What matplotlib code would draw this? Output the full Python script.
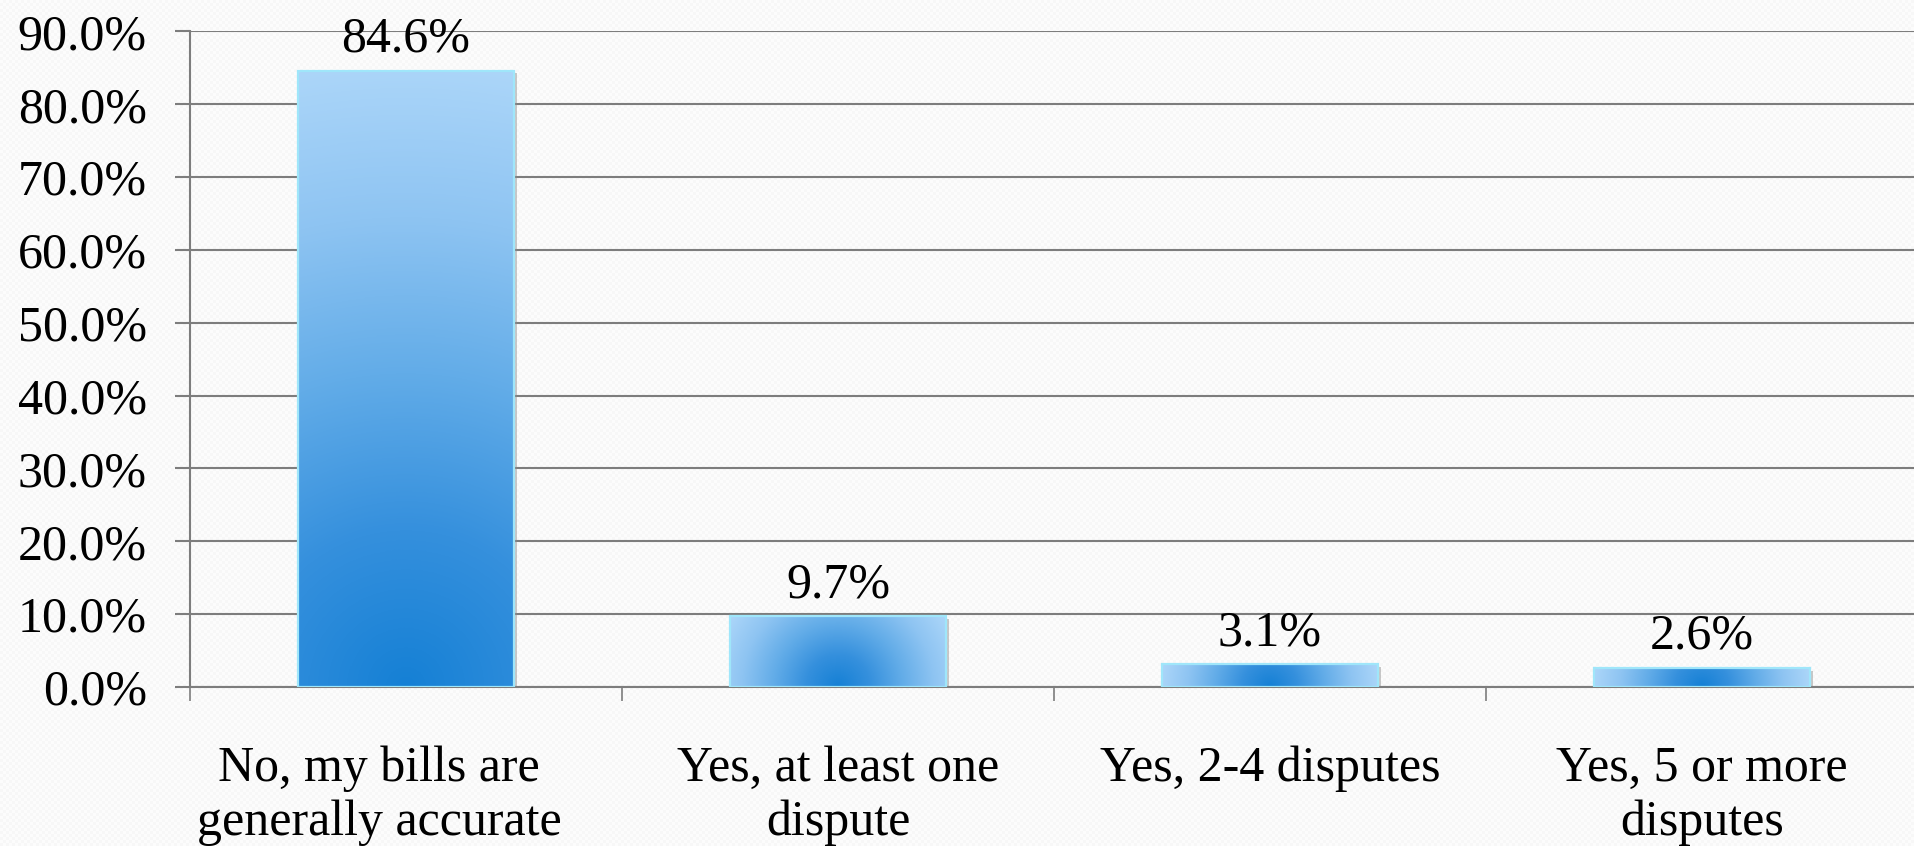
import numpy as np
import matplotlib
matplotlib.use("Agg")
import matplotlib.pyplot as plt
from matplotlib.colors import LinearSegmentedColormap
from matplotlib.patches import Rectangle
from matplotlib import transforms

# Survey results: billing disputes
categories = [
    "No, my bills are\ngenerally accurate",
    "Yes, at least one\ndispute",
    "Yes, 2-4 disputes",
    "Yes, 5 or more\ndisputes",
]
shares = [84.6, 9.7, 3.1, 2.6]
y_ticks = [0, 10, 20, 30, 40, 50, 60, 70, 80, 90]

plt.rcParams["font.family"] = ["Liberation Serif", "DejaVu Serif"]
FS = 36
GRID = "#7d7d7d"

W, H, DPI = 1915, 846, 100
fig = plt.figure(figsize=(W / DPI, H / DPI), dpi=DPI)
fig.patch.set_facecolor("#fbfbfb")

# faint dotted paper texture
yy, xx = np.mgrid[0:H, 0:W]
tex = np.where(((xx // 3) + (yy // 3)) % 2 == 0, 0.992, 0.972)
fig.figimage(np.dstack([tex, tex, tex]), xo=0, yo=0, zorder=-10)

left_px, right_px, top_px, bot_px = 190, 1918, 31.5, 687
ax = fig.add_axes([left_px / W, 1 - bot_px / H,
                   (right_px - left_px) / W, (bot_px - top_px) / H])
ax.set_zorder(1)
ax.set_facecolor("none")
ax.set_xlim(-0.5, len(categories) - 0.5)
ax.set_ylim(0, 90)

for s in ("top", "right"):
    ax.spines[s].set_visible(False)
for s in ("left", "bottom"):
    ax.spines[s].set_color(GRID)
    ax.spines[s].set_linewidth(1.5)

ax.set_yticks(y_ticks)
ax.set_yticklabels([f"{t:.1f}%" for t in y_ticks], fontsize=FS)
ax.tick_params(axis="y", length=11, width=1.5, color=GRID, pad=20, direction="out")
ax.yaxis.grid(True, color=GRID, linewidth=1.5, zorder=1)
ax.set_axisbelow(True)

xpos = np.arange(len(categories))
ax.set_xticks(np.arange(len(categories) + 1) - 0.5)
ax.set_xticklabels([])
ax.tick_params(axis="x", length=10, width=1.2, color=GRID, direction="out")

cmap = LinearSegmentedColormap.from_list(
    "barfill", ["#1580d5", "#3590dd", "#62ace8", "#8ec4f2", "#acd6f9"])

bars = ax.bar(xpos, shares, width=0.5, color="none", edgecolor="none", zorder=3)

fig.canvas.draw()
px_per_x = ax.transData.transform((1, 0))[0] - ax.transData.transform((0, 0))[0]
px_per_y = ax.transData.transform((0, 1))[1] - ax.transData.transform((0, 0))[1]

shadow_tr = transforms.offset_copy(ax.transData, fig=fig, x=2.5, y=-2.5, units="dots")

for bar in bars:
    x0, w, h = bar.get_x(), bar.get_width(), bar.get_height()
    wpx, hpx = w * px_per_x, h * px_per_y
    nx, ny = 200, max(int(hpx), 20)
    u = (np.linspace(0, 1, nx) - 0.5) * wpx
    v = np.linspace(0, 1, ny) * hpx
    U, V = np.meshgrid(u, v)
    d = np.sqrt(U ** 2 + V ** 2)
    d = d / d.max()
    # soft shadow
    ax.add_patch(Rectangle((x0, 0), w, h, transform=shadow_tr,
                           facecolor="#8a8a8a", alpha=0.45, edgecolor="none", zorder=2.5))
    ax.imshow(cmap(d), extent=[x0, x0 + w, 0, h], origin="lower",
              aspect="auto", interpolation="bilinear", zorder=3)
    ax.add_patch(Rectangle((x0, 0), w, h, facecolor="none",
                           edgecolor="#9fe6fa", linewidth=1.6, zorder=3.5))

ax.set_xlim(-0.5, len(categories) - 0.5)
ax.set_ylim(0, 90)

for i, v in enumerate(shares):
    ax.annotate(f"{v:.1f}%", xy=(i, v), xytext=(0, 6), textcoords="offset points",
                ha="center", va="bottom", fontsize=FS, color="black", zorder=5)

label_shift = [-27, 0, 0, 0]
for i, lab in enumerate(categories):
    ax.annotate(lab, xy=(i, 0), xycoords=ax.get_xaxis_transform(),
                xytext=(label_shift[i], -58), textcoords="offset pixels",
                ha="center", va="top", multialignment="center",
                fontsize=FS, linespacing=1.22, annotation_clip=False)

fig.savefig("out.png", dpi=DPI, facecolor=fig.get_facecolor())
